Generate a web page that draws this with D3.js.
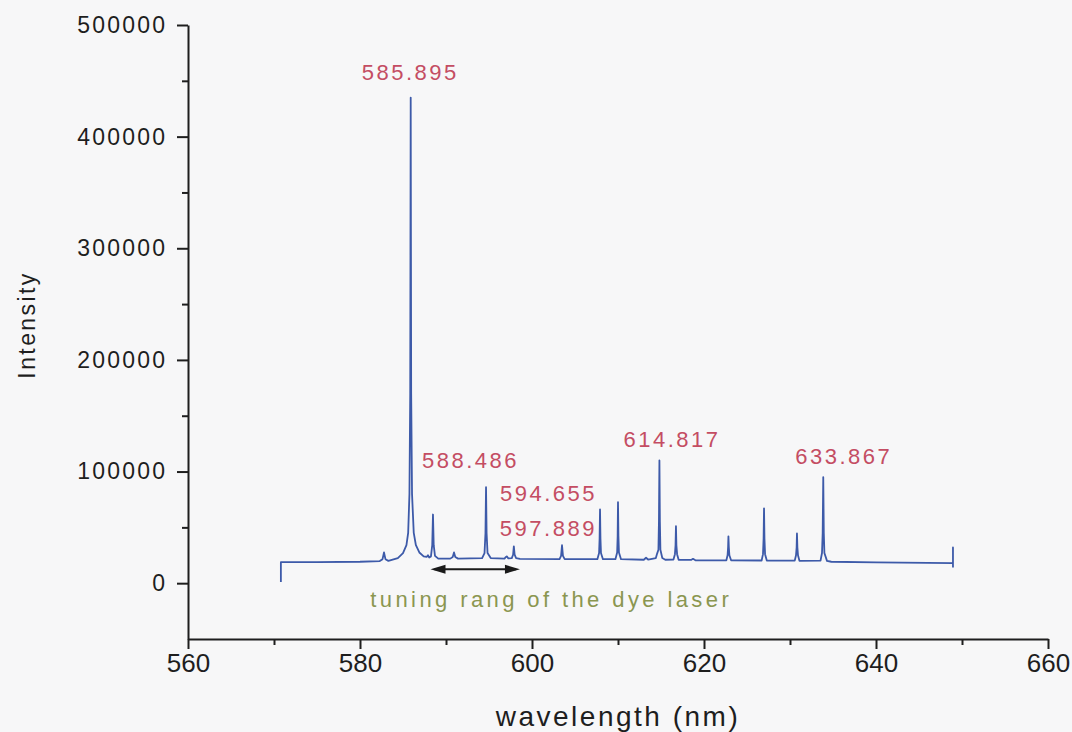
<!DOCTYPE html>
<html>
<head>
<meta charset="utf-8">
<script src="https://cdn.jsdelivr.net/npm/d3@7"></script>
<style>
  html, body { margin: 0; padding: 0; background: #f7f7f8; }
  svg { display: block; }
</style>
</head>
<body>
<svg id="chart" width="1072" height="732"></svg>
<script>
// Emission spectrum trace: wavelength (nm) and intensity (counts)
const spectrumWl = [
  570.80, 570.80, 575.00, 580.00, 582.30, 582.62, 582.79, 582.96, 583.30,
  584.40, 585.00, 585.40, 585.60, 585.75, 585.84, 585.895, 585.95, 586.05, 586.25, 586.50, 586.90, 587.40,
  587.75, 587.90, 588.05, 588.25, 588.40, 588.486, 588.57, 588.72, 589.10,
  590.50, 590.78, 590.93, 591.08, 591.40,
  594.20, 594.48, 594.59, 594.655, 594.72, 594.83, 595.20,
  596.80, 596.97, 597.09, 597.25, 597.65, 597.80, 597.889, 597.98, 598.15, 598.60,
  603.20, 603.38, 603.49, 603.60, 603.80,
  607.60, 607.80, 607.86, 607.91, 607.96, 608.02, 608.25,
  609.70, 609.90, 609.96, 610.00, 610.05, 610.11, 610.35,
  613.00, 613.26, 613.50,
  614.40, 614.55, 614.70, 614.76, 614.817, 614.87, 614.93, 615.15, 615.50,
  616.45, 616.62, 616.69, 616.74, 616.79, 616.87, 617.05,
  618.50, 618.72, 619.00,
  622.60, 622.74, 622.80, 622.84, 622.89, 622.95, 623.15,
  626.70, 626.86, 626.93, 626.98, 627.03, 627.10, 627.30,
  630.55, 630.70, 630.77, 630.81, 630.86, 630.93, 631.10,
  633.55, 633.72, 633.80, 633.867, 633.93, 634.00, 634.30, 634.80,
  640.00, 648.95, 648.95, 648.95
];
const spectrumI = [
  1000, 18800, 18900, 19200, 19800, 21500, 27500, 21500, 20000,
  22500, 27000, 34000, 45000, 80000, 170000, 435000, 170000, 80000, 45000, 34000, 27500, 24000,
  23500, 25000, 23000, 24000, 34000, 61500, 34000, 24500, 22000,
  22000, 23500, 27500, 23500, 22000,
  22500, 27000, 45000, 86000, 45000, 27000, 22500,
  22000, 23500, 24000, 22200, 22500, 25500, 33000, 25500, 22500, 21800,
  21500, 24500, 34000, 24500, 21500,
  21500, 27000, 40000, 66000, 40000, 27000, 21500,
  21500, 27500, 42000, 72500, 42000, 27500, 21500,
  21000, 22800, 21200,
  22500, 26500, 30000, 55000, 110000, 55000, 30000, 22500, 21000,
  21200, 26000, 34000, 51000, 34000, 26000, 21000,
  20800, 21800, 20500,
  20500, 25000, 32000, 42000, 32000, 25000, 20500,
  20300, 26000, 40000, 67000, 40000, 26000, 20300,
  20200, 25000, 32000, 44500, 32000, 25000, 20000,
  20200, 27000, 45000, 95000, 45000, 27000, 20000, 19200,
  18700, 18000, 32000, 14000
];

// Labelled lines
const peakWl = [585.895, 588.486, 594.655, 597.889, 614.817, 633.867];
const peakLabels = ["585.895", "588.486", "594.655", "597.889", "614.817", "633.867"];

// Axis ticks
const xTicks = [560, 580, 600, 620, 640, 660];
const xMinorTicks = [570, 590, 610, 630, 650];
const yTicks = [0, 100000, 200000, 300000, 400000, 500000];
const yMinorTicks = [50000, 150000, 250000, 350000, 450000];

// Dye laser tuning range (nm)
const tuningRange = [588.2, 598.6];
const tuningText = "tuning rang of the dye laser";

// ---- layout ----
const svg = d3.select("#chart");
const width = 1072, height = 732;
const x = d3.scaleLinear().domain([560, 660]).range([188, 1048]);
const y = d3.scaleLinear().domain([-50000, 500000]).range([639, 25]);

const axisColor = "#1e1e1e";
const lineColor = "#3d5aa9";
const labelColor = "#c44d63";
const noteColor = "#8b9650";
const font = "'Liberation Sans', Arial, Helvetica, sans-serif";
const narrowFont = "'Liberation Sans Narrow', 'Arial Narrow', 'Liberation Sans', sans-serif";

svg.append("rect").attr("width", width).attr("height", height).attr("fill", "#f7f7f8");

// label anchors: horizontal offset from the peak (px) and baseline intensity
const labelPlacement = [
  { dx: -49, at: 451000 },
  { dx: -11, at: 103500 },
  { dx: 14, at: 74000 },
  { dx: -14, at: 42500 },
  { dx: -36, at: 122000 },
  { dx: -28, at: 106500 }
];

// ---- spectrum ----
const line = d3.line()
  .x(i => x(spectrumWl[i]))
  .y(i => y(spectrumI[i]));

svg.append("path")
  .attr("d", line(d3.range(spectrumWl.length)))
  .attr("fill", "none")
  .attr("stroke", lineColor)
  .attr("stroke-width", 1.8)
  .attr("stroke-linejoin", "round");

// ---- axes ----
const gx = svg.append("g").attr("transform", `translate(0,${y.range()[0]})`);
gx.call(d3.axisBottom(x).tickValues(xTicks).tickSize(10).tickSizeOuter(0).tickPadding(5).tickFormat(d3.format("d")));
const gxm = svg.append("g").attr("transform", `translate(0,${y.range()[0]})`);
gxm.call(d3.axisBottom(x).tickValues(xMinorTicks).tickSize(6).tickSizeOuter(0).tickFormat(""));
gxm.select(".domain").remove();

const gy = svg.append("g").attr("transform", `translate(${x.range()[0]},0)`);
gy.call(d3.axisLeft(y).tickValues(yTicks).tickSize(11).tickSizeOuter(0).tickPadding(12).tickFormat(d3.format("d")));
const gym = svg.append("g").attr("transform", `translate(${x.range()[0]},0)`);
gym.call(d3.axisLeft(y).tickValues(yMinorTicks).tickSize(6).tickSizeOuter(0).tickFormat(""));
gym.select(".domain").remove();

svg.selectAll(".domain, .tick line")
  .attr("stroke", axisColor)
  .attr("stroke-width", 2);

gx.selectAll(".tick text")
  .attr("fill", "#1e1e1e")
  .style("font-family", narrowFont)
  .style("font-size", "26px");

gy.selectAll(".tick text")
  .attr("fill", "#1e1e1e")
  .attr("dx", "2.2px")
  .style("font-family", font)
  .style("font-size", "23px")
  .style("letter-spacing", "2.2px");

// axis titles
svg.append("text")
  .attr("x", 618).attr("y", 726)
  .attr("text-anchor", "middle")
  .attr("fill", "#1e1e1e")
  .style("font-family", font)
  .style("font-size", "28px")
  .style("letter-spacing", "2.5px")
  .text("wavelength (nm)");

svg.append("text")
  .attr("transform", "translate(35,325) rotate(-90)")
  .attr("text-anchor", "middle")
  .attr("fill", "#1e1e1e")
  .style("font-family", font)
  .style("font-size", "23px")
  .style("letter-spacing", "2.4px")
  .text("Intensity");

// ---- peak labels ----
svg.append("g").selectAll("text")
  .data(peakLabels)
  .join("text")
  .attr("x", (d, i) => x(peakWl[i]) + labelPlacement[i].dx)
  .attr("y", (d, i) => y(labelPlacement[i].at))
  .attr("fill", labelColor)
  .style("font-family", font)
  .style("font-size", "22px")
  .style("letter-spacing", "2.5px")
  .text(d => d);

// ---- tuning range arrow ----
const ay = y(12500);
const ax0 = x(tuningRange[0]), ax1 = x(tuningRange[1]);
const headL = 15, headW = 4.5;
svg.append("line")
  .attr("x1", ax0 + 4).attr("x2", ax1 - 4)
  .attr("y1", ay).attr("y2", ay)
  .attr("stroke", "#1a1a1a").attr("stroke-width", 2.2);
svg.append("path")
  .attr("d", `M${ax0},${ay} L${ax0 + headL},${ay - headW} L${ax0 + headL},${ay + headW} Z`)
  .attr("fill", "#1a1a1a");
svg.append("path")
  .attr("d", `M${ax1},${ay} L${ax1 - headL},${ay - headW} L${ax1 - headL},${ay + headW} Z`)
  .attr("fill", "#1a1a1a");

svg.append("text")
  .attr("x", x(581.2)).attr("y", y(-21500))
  .attr("fill", noteColor)
  .style("font-family", font)
  .style("font-size", "22px")
  .style("letter-spacing", "3.4px")
  .text(tuningText);
</script>
</body>
</html>
